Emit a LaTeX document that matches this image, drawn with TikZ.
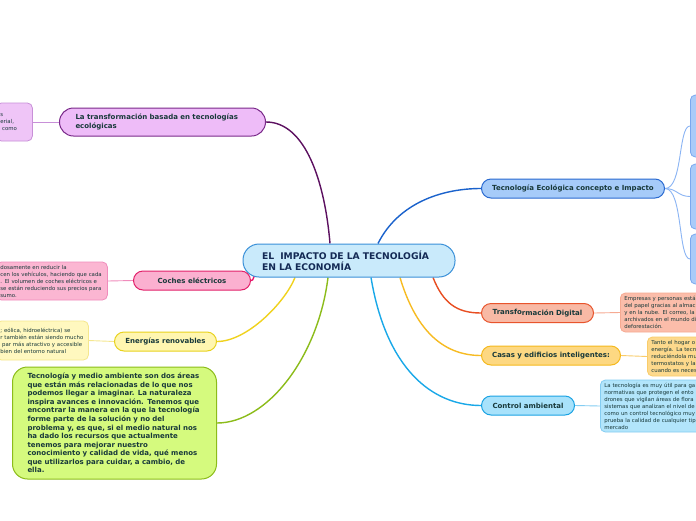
\documentclass[tikz,border=0pt]{standalone}
\usepackage{fontspec}
\setmainfont{DejaVu Sans}
\usetikzlibrary{calc}
\pgfdeclarelayer{bg}
\pgfsetlayers{bg,main}
\newcommand{\oneline}[1]{\mbox{#1}}
\definecolor{txt}{HTML}{18393A}
\definecolor{maintxt}{HTML}{142A55}
\definecolor{cfill}{HTML}{C9EAFB}\definecolor{cdraw}{HTML}{3A90D8}
\definecolor{pufill}{HTML}{EEBCF8}\definecolor{pudraw}{HTML}{7A2A8A}\definecolor{pucon}{HTML}{5C1060}
\definecolor{pudfill}{HTML}{EFC5F7}\definecolor{puddraw}{HTML}{C890D8}
\definecolor{pifill}{HTML}{FBB0D0}\definecolor{pidraw}{HTML}{E2206A}\definecolor{picon}{HTML}{E8146C}
\definecolor{pidfill}{HTML}{FBB6D2}\definecolor{piddraw}{HTML}{F08CBC}
\definecolor{yefill}{HTML}{FFF6B0}\definecolor{yedraw}{HTML}{E8D21E}\definecolor{yecon}{HTML}{F0D21E}
\definecolor{yedfill}{HTML}{FFF8BF}\definecolor{yeddraw}{HTML}{F5E78E}
\definecolor{grfill}{HTML}{D5FA7E}\definecolor{grdraw}{HTML}{8CBC1A}
\definecolor{blfill}{HTML}{A6CBF9}\definecolor{bldraw}{HTML}{2A6AD0}\definecolor{blcon}{HTML}{1A62CC}
\definecolor{bldfill}{HTML}{A9CBF9}\definecolor{bldraw2}{HTML}{7AA8EF}\definecolor{bldcon}{HTML}{8AB4F4}
\definecolor{safill}{HTML}{F8B9A5}\definecolor{sadraw}{HTML}{E8542C}\definecolor{sacon}{HTML}{E84E22}
\definecolor{sadfill}{HTML}{FBBDAA}\definecolor{saddraw}{HTML}{F6AA92}
\definecolor{orfill}{HTML}{FDD882}\definecolor{ordraw}{HTML}{F5B91E}\definecolor{orcon}{HTML}{F7BB22}
\definecolor{ordfill}{HTML}{FDD98C}\definecolor{orddraw}{HTML}{F9CC6A}
\definecolor{cyfill}{HTML}{A8E2FB}\definecolor{cydraw}{HTML}{1BA3E3}\definecolor{cycon}{HTML}{19A8E8}
\definecolor{cydfill}{HTML}{B2E5FB}\definecolor{cyddraw}{HTML}{84CDF2}
\tikzset{
  branch/.style 2 args={draw=#2, fill=#1, line width=1pt, rounded corners=9.5pt,
    minimum height=19pt, inner sep=0pt, text=txt, anchor=west,
    font=\bfseries\fontsize{7}{9.5}\selectfont},
  detail/.style 2 args={draw=#2, fill=#1, line width=0.8pt, rounded corners=5pt,
    inner xsep=4pt, inner ysep=0pt, text=txt, align=left, anchor=west,
    font=\fontsize{5.4}{7}\selectfont},
  con/.style={line width=1.4pt, draw=#1},
  dcon/.style={line width=0.9pt, draw=#1},
}
\begin{document}
\begin{tikzpicture}[x=1pt,y=-1pt]
\useasboundingbox (0,0) rectangle (696,520);
\clip (0,0) rectangle (696,520);

% central node
\node[draw=cdraw, fill=cfill, line width=1pt, rounded corners=16pt, minimum width=212pt,
  minimum height=33pt, inner xsep=19pt, inner ysep=0pt, text width=174pt, align=left,
  text=maintxt, font=\bfseries\fontsize{9.2}{11}\selectfont] (c) at (349,260.5)
  {\oneline{EL\ \ IMPACTO DE LA TECNOLOGÍA}\\\oneline{EN LA ECONOMÍA}};

% left branches
\node[branch={pufill}{pudraw}, minimum width=206pt, minimum height=28pt, rounded corners=14pt,
  inner xsep=16pt, text width=174pt, align=left] (tl) at (59,122)
  {\oneline{La transformación basada en tecnologías}\\\oneline{ecológicas}};
\node[detail={pudfill}{puddraw}, minimum height=38pt, text width=28pt] (pd) at (-4,122)
  {\oneline{s}\\\oneline{erial,}\\\oneline{ como}};

\node[branch={pifill}{pidraw}, minimum width=117pt] (ce) at (133,280.5) {Coches eléctricos};
\node[detail={pidfill}{piddraw}, minimum height=38pt, text width=103pt] (cd) at (-4,281)
  {\oneline{dosamente en reducir la}\\\oneline{cen los vehículos, haciendo que cada}\\\oneline{. El volumen de coches eléctricos e}\\\oneline{se están reduciendo sus precios para}\\\oneline{sumo.}};

\node[branch={yefill}{yedraw}, minimum width=102pt] (en) at (114,341.5) {Energías renovables};
\node[detail={yedfill}{yeddraw}, minimum height=39pt, text width=84pt] (ed) at (-4,340.5)
  {\oneline{; eólica, hidroeléctrica) se}\\\oneline{r también están siendo mucho}\\\oneline{ par más atractivo y accesible}\\\oneline{bien del entorno natural}\\[2pt]};

\node[draw=grdraw, fill=grfill, line width=1pt, rounded corners=15pt, minimum width=204pt,
  minimum height=112pt, inner xsep=15pt, inner ysep=0pt, text width=174pt, align=left,
  anchor=west, text=txt, font=\bfseries\fontsize{7}{8.55}\selectfont] (gb) at (12,423)
  {\oneline{Tecnología y medio ambiente son dos áreas}\\\oneline{que están más relacionadas de lo que nos}\\\oneline{podemos llegar a imaginar. La naturaleza}\\\oneline{inspira avances e innovación. Tenemos que}\\\oneline{encontrar la manera en la que la tecnología}\\\oneline{forme parte de la solución y no del}\\\oneline{problema y, es que, si el medio natural nos}\\\oneline{ha dado los recursos que actualmente}\\\oneline{tenemos para mejorar nuestro}\\\oneline{conocimiento y calidad de vida, qué menos}\\\oneline{que utilizarlos para cuidar, a cambio, de}\\\oneline{ella.}};

% right branches
\node[branch={blfill}{bldraw}, minimum width=183pt] (tb) at (481,188.5) {Tecnología Ecológica concepto e Impacto};
\node[detail={bldfill}{bldraw2}, minimum width=40pt, minimum height=62pt] (b1) at (690,126) {};
\node[detail={bldfill}{bldraw2}, minimum width=40pt, minimum height=65pt] (b2) at (690,196.5) {};
\node[detail={bldfill}{bldraw2}, minimum width=40pt, minimum height=50pt] (b3) at (690,259) {};

\node[branch={safill}{sadraw}, minimum width=112pt] (td) at (481,313) {\raisebox{0.6pt}{Transfo}rmación Digital};
\node[detail={sadfill}{saddraw}, minimum height=39pt, text width=92pt] (tdd) at (620,312.5)
  {\oneline{Empresas y personas está}\\\oneline{del papel gracias al almac}\\\oneline{y en la nube. El correo, la}\\\oneline{archivados en el mundo di}\\\oneline{deforestación.}};

\node[branch={orfill}{ordraw}, minimum width=139pt] (ca) at (481,355.5) {Casas y edificios inteligentes:};
\node[detail={ordfill}{orddraw}, minimum height=39pt, text width=65pt] (cad) at (647,356.5)
  {\oneline{Tanto el hogar o}\\\oneline{energía. La tecn}\\\oneline{reduciéndola mu}\\\oneline{termostatos y la}\\\oneline{cuando es neces}};

\node[branch={cyfill}{cydraw}, minimum width=93pt] (ct) at (481,405.5) {Control ambiental};
\node[detail={cydfill}{cyddraw}, minimum height=52pt, text width=112pt] (ctd) at (600,406)
  {\oneline{La tecnología es muy útil para ga}\\\oneline{normativas que protegen el ento}\\\oneline{drones que vigilan áreas de flora}\\\oneline{sistemas que analizan el nivel de}\\\oneline{como un control tecnológico muy}\\\oneline{prueba la calidad de cualquier tip}\\\oneline{mercado}};

% connectors
\begin{pgfonlayer}{bg}
\fill[white] (0,0) rectangle (696,520);
\draw[con=pucon] ($(c.north)+(-19,0)$) .. controls +(-5,-60) and +(40,0) .. (tl.east);
\draw[con=picon] ($(c.south west)+(13,-3)$) .. controls +(-3,3) and +(3,0) .. (ce.east);
\draw[con=yecon] ($(c.south)+(-54,0)$) .. controls +(-10,25) and +(30,0) .. (en.east);
\draw[con=grdraw] ($(c.south)+(-21,0)$) .. controls +(-10,80) and +(50,0) .. (gb.east);
\draw[con=blcon] ($(c.north)+(29,0)$) .. controls +(20,-40) and +(-40,0) .. (tb.west);
\draw[con=sacon] ($(c.south)+(84,0)$) .. controls +(10,25) and +(-25,0) .. (td.west);
\draw[con=orcon] ($(c.south)+(51,0)$) .. controls +(15,50) and +(-40,0) .. (ca.west);
\draw[con=cycon] ($(c.south)+(22,0)$) .. controls +(15,90) and +(-50,0) .. (ct.west);
\draw[dcon=puddraw] (tl.west) -- (pd.east);
\draw[dcon=piddraw] (ce.west) -- (cd.east);
\draw[dcon=yeddraw] (en.west) -- (ed.east);
\draw[dcon=saddraw] (td.east) -- (tdd.west);
\draw[dcon=orddraw] (ca.east) -- (cad.west);
\draw[dcon=cyddraw] (ct.east) -- (ctd.west);
\draw[dcon=bldcon] (tb.east) .. controls +(18,0) and +(-12,0) .. (b1.west);
\draw[dcon=bldcon] (tb.east) .. controls +(12,0) and +(-12,0) .. (b2.west);
\draw[dcon=bldcon] (tb.east) .. controls +(18,0) and +(-12,0) .. (b3.west);
\end{pgfonlayer}
\end{tikzpicture}
\end{document}
